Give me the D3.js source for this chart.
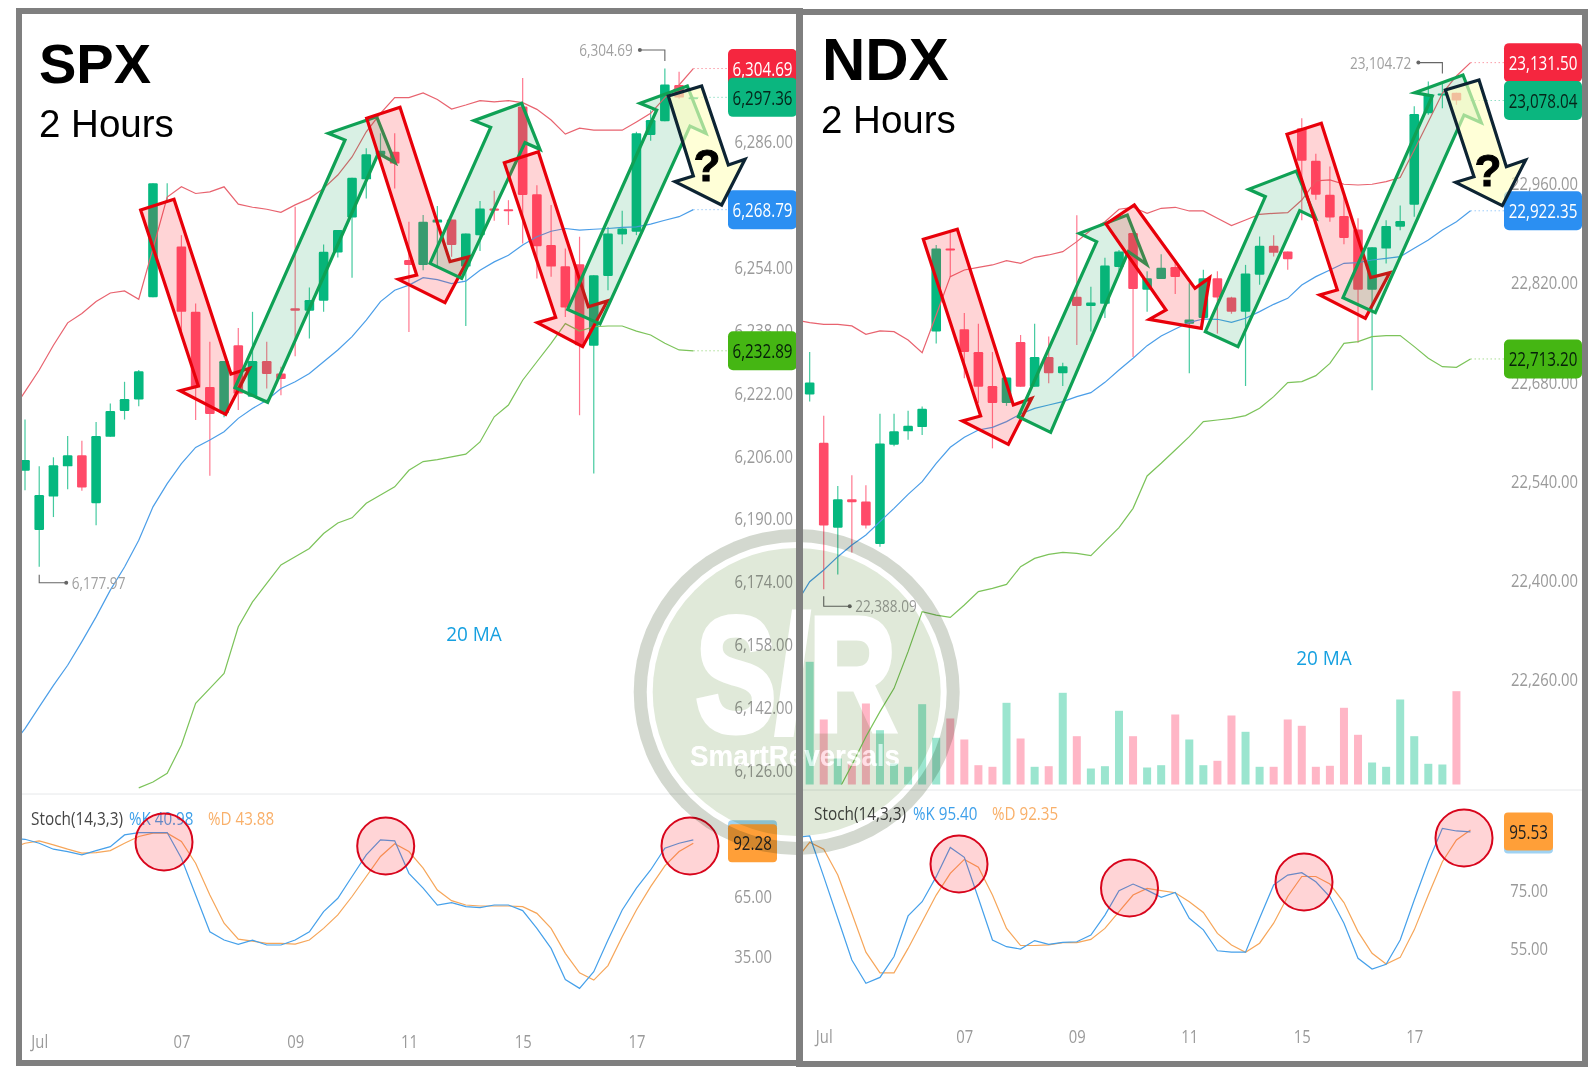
<!DOCTYPE html>
<html><head><meta charset="utf-8">
<script src="https://cdn.jsdelivr.net/npm/d3@7/dist/d3.min.js"></script>
<style>html,body{margin:0;padding:0;background:#fff}svg{display:block}</style>
</head><body><svg id="c" width="1588" height="1068"></svg>
<script>
// ---------- data ----------
const dateTickIndex = [1, 11, 19, 27, 35, 43];
const dateTickLabels = ["Jul", "07", "09", "11", "15", "17"];

// [open, high, low, close]
const spxCandles = [
[6202.4,6215.4,6197.4,6205.1],[6187.3,6203.5,6177.97,6196.2],[6195.8,6205.8,6190.6,6203.8],[6203.5,6211.2,6197.7,6206.3],
[6206.3,6210,6197.3,6198.1],[6194.1,6214.8,6188.5,6211.2],[6211,6219.5,6211,6217.6],[6217.6,6225,6215.4,6220.6],
[6220.5,6228,6218.8,6227.7],[6246.5,6275.5,6246.5,6275.5],[6275.5,6275.5,6271,6275.5],[6259.4,6262.3,6237.3,6242.8],
[6242.8,6244.9,6215.3,6223.7],[6223.7,6235.2,6201.1,6216.8],[6217,6230.3,6216,6230.3],[6234.3,6238.7,6217.8,6222],
[6221.2,6242.8,6221.2,6230.3],[6230.3,6235.2,6223.3,6227],[6227.1,6228.8,6221.6,6225.7],[6243.7,6269.5,6231.5,6243.1],
[6243.1,6249,6236,6245.8],[6245.6,6259.9,6242.8,6258.1],[6257.9,6263.6,6256.6,6263.6],[6266.8,6276.9,6251.5,6276.9],
[6276.5,6284.4,6271.6,6282.9],[6282.7,6288.2,6280.5,6283.8],[6283.5,6288.2,6274.2,6280.5],[6256,6265.7,6237.7,6254.7],
[6254.7,6267.4,6253.4,6265.7],[6265.5,6269.7,6254.3,6266.3],[6266.3,6266.3,6256.8,6259.8],[6254.3,6262.7,6239.2,6262.7],
[6262.3,6271,6258.3,6269.1],[6269.1,6273.6,6266,6268.5],[6268.9,6271.2,6264.9,6268.4],[6295,6302.3,6260.2,6272.5],
[6272.7,6275,6251.3,6259.5],[6259.8,6270,6251.7,6254.3],[6254.4,6258.9,6241.5,6243.9],[6254.9,6261.9,6216.5,6234.3],
[6234.2,6252.1,6201.7,6252.1],[6251.9,6264.4,6248.3,6262.7],[6262.5,6268.5,6260,6264],[6263.2,6288.6,6262.3,6288.2],
[6287.8,6294.1,6286.3,6291.6],[6291.3,6304.69,6291.3,6300.6],[6300.5,6303.9,6297,6297.3],[6297.2,6297.5,6297.1,6297.36]];

// Line series start one bar before the first candle (hidden by the frame).
const spxUpper = [6217,6222.5,6228,6234.3,6240,6242.4,6245.4,6247.6,6248.1,6246,6258.9,6272,6274.6,6272.9,6273.3,6274.6,6270.2,6269.4,6268.9,6268.1,6270,6271.6,6274.2,6277.6,6282.2,6288.6,6293.3,6297.3,6297.3,6298.5,6296.8,6294.4,6295.4,6296.5,6296.2,6296.5,6296,6294.3,6291.6,6288,6289.5,6289,6289,6289,6291.1,6293.3,6297.3,6300.5,6304.69];
const spxMA = [6132.1,6136.8,6142.3,6147.8,6152.9,6158.9,6165.2,6172,6177.9,6184.7,6193.2,6199.1,6204.2,6208.3,6210.2,6212.3,6215.7,6218.2,6220.3,6223.3,6225,6227.1,6230.1,6233.1,6236.5,6240.7,6245.4,6248.3,6249.6,6251.5,6251,6250,6250.6,6253.4,6255.5,6257.2,6259.8,6261.9,6263.3,6264,6263.6,6263.8,6264,6264.3,6264.4,6265.1,6266.1,6267,6268.79];
const spxLower = [null,null,null,null,null,null,null,null,null,6121.7,6123.2,6125.4,6132.6,6143.2,6147,6150.8,6162.7,6169,6173.7,6178.4,6180.5,6182.6,6186.4,6189.1,6190.4,6194.1,6196.2,6198.3,6202.5,6204.7,6205.2,6205.9,6206.6,6209.7,6216.1,6219.1,6225.4,6230.1,6234.8,6239.8,6237.9,6239,6239.2,6239.2,6237.9,6236.9,6234.8,6233.1,6232.89];
const spxK = [94.5,94.3,92.3,89.3,88.1,86.4,88.6,90.6,96.5,97.7,97.7,97.7,84.7,66.2,47.6,43.4,41.2,43.4,40.9,40.9,43.4,47.6,57.8,64.5,75.5,86.4,94,93.5,77.1,69.6,61.1,62.3,60.3,59.8,61.1,61.1,58.3,49.3,39.2,23.5,19,27.4,43.4,58.6,69.6,78.8,89.8,92.3,94];
const spxD = [89.8,92.3,93.5,91.5,89.3,87.3,87.6,88.6,92.3,95.7,97.4,97.4,93.2,82.2,66.2,51.9,43.9,42.9,41.7,41.7,41.4,43.4,49.3,56.1,65.4,75.5,85.6,92,88.1,79.7,68.7,63.3,61.1,60.6,60.6,60.6,60.3,56.9,49.3,36.7,26.9,23.2,30.5,45.1,58.6,70.4,80.9,88.1,92.28];
const spxPriceTicks = [6126,6142,6158,6174,6190,6206,6222,6238,6254,6286];
const spxStochTicks = [35,65];

const ndxCandles = [
[22663,22723,22653,22680],[22595,22633,22388.09,22478],[22475,22534,22409,22515],[22515,22549,22440,22511],
[22512,22535,22474,22478],[22452,22636,22448,22594],[22592,22636,22590,22611],[22611,22640,22599,22619],
[22617,22646,22606,22643],[22752,22874,22735,22869],[22869,22891,22829,22867],[22755,22778,22686,22723],
[22723,22763,22651,22674],[22675,22723,22587,22651],[22651,22687,22647,22687],[22737,22747,22674,22674],
[22674,22763,22674,22716],[22716,22745,22679,22693],[22693,22708,22675,22703],[22801,22916,22733,22788],
[22788,22815,22752,22793],[22791,22856,22771,22845],[22843,22867,22834,22865],[22891,22891,22716,22812],
[22811,22837,22780,22827],[22826,22861,22826,22842],[22843,22854,22805,22829],[22763,22820,22693,22769],
[22771,22839,22768,22827],[22827,22837,22749,22800],[22800,22801,22777,22780],[22780,22846,22675,22834],
[22832,22886,22818,22873],[22873,22888,22858,22863],[22865,22865,22839,22854],[23039,23053,22909,22993],
[22993,23003,22938,22945],[22945,22985,22907,22913],[22915,22942,22875,22884],[22896,22912,22736,22811],
[22811,22871,22669,22871],[22869,22909,22848,22901],[22900,22930,22895,22908],[22931,23070,22914,23059],
[23060,23104.72,23058,23087],[23087,23102,23067,23088],[23089,23089,23072,23078]];
const ndxVolume = [122.7,65,26,21,81,54.3,21,17.7,80.3,46.7,66,45,19.3,17.7,81.7,46,17.7,18.3,91.7,48.3,16,18.3,73.7,48.3,17,19.3,70,45,19.3,23.7,69,52.7,17.7,17.7,65,58.7,17.7,18.7,76.7,49.7,22,17.7,85,48.3,20.7,20,93.3];
const ndxUpper = [22768,22764.5,22762.1,22762.1,22759.8,22748,22752.7,22751.8,22740,22722.1,22775.3,22829.4,22838.8,22842.6,22845.9,22852,22848.2,22856.7,22860,22864.7,22878.8,22895.3,22907,22924.5,22927.3,22918.8,22925.9,22927.3,22922.1,22922.1,22911.8,22901.4,22909.4,22917.4,22918.8,22919.8,22937.6,22964.5,22965.9,22959.8,22958.8,22959.8,22963.5,22969.2,23008.2,23048.2,23088.2,23112.7,23131.5];
const ndxMA = [22366,22398.8,22415.3,22434.1,22450.6,22464.7,22483.5,22502.3,22522.1,22540,22565.9,22588.5,22602.6,22612.9,22616.7,22624.7,22635.5,22643.5,22648.2,22652.9,22660,22665.6,22680.2,22697.6,22714.1,22732,22745.6,22755.5,22764.9,22769.6,22769.2,22764.9,22770.6,22780,22790.3,22798.8,22817.6,22829.4,22838.8,22848.2,22849.2,22852.9,22855.3,22857.6,22869.4,22881.2,22895.3,22907,22922.35];
const ndxLower = [null,null,null,22102.3,22140,22180,22215.3,22248.2,22300,22356.5,22351.7,22348.4,22365.9,22384.7,22389.4,22395,22420,22431.7,22437.4,22440.2,22438.8,22435.5,22455.3,22475,22502.3,22548,22565.9,22584.7,22603.5,22624.7,22627,22629.4,22633.2,22643.5,22660,22679.8,22681.2,22689.6,22707,22735.3,22737.6,22744.7,22746.1,22746.1,22730.6,22714.1,22702.3,22701.4,22713.2];
const ndxK = [93.5,93.97,79.95,65.6,51.2,43.2,45.2,52.4,66.4,71.3,79.95,90,86.6,72.5,58.1,55.8,55,57.9,56.6,57.3,57.5,59.8,66.7,75.1,77.4,75.3,72.8,74.5,65.6,61.6,54.4,53.9,53.9,65.6,77.1,80.5,81.3,78.2,73,63.9,51.8,48.1,49.7,58.1,71.9,85.1,96.6,95.7,95.4];
const ndxD = [85.7,91.8,89.4,80.5,67.3,53.9,46.8,46.8,55.2,64.4,73.6,81.1,85.9,83.2,73.6,62.1,56.2,56.2,56.4,57.2,57.2,58.3,62.1,67.9,73.6,75.9,75.1,74.4,71.3,67.6,60.4,56.4,53.9,57,63.9,73.1,80,80,77.4,71,61,53.5,49.8,52.1,61.6,73.6,85.1,92.6,96];
const ndxPriceTicks = [22260,22400,22540,22680,22820,22960];
const ndxStochTicks = [55,75];

const spxTags = [["6,304.69",6304.69,"#f5263f","#fff"],["6,297.36",6297.36,"#0bb67f","#06251a"],["6,268.79",6268.79,"#2b8ff2","#fff"],["6,232.89",6232.89,"#45b613","#06200a"]];
const ndxTags = [["23,131.50",23131.5,"#f5263f","#fff"],["23,078.04",23078.04,"#0bb67f","#06251a"],["22,922.35",22922.35,"#2b8ff2","#fff"],["22,713.20",22713.2,"#45b613","#06200a"]];

// ---------- annotation overlays, in page pixels ×3 ----------
const spxArrows = [
 ["r",[[422,630],[522,598],[693,1122],[748,1105],[677,1243],[540,1172],[595,1158]]],
 ["g",[[705,1163],[1035,420],[985,400],[1130,350],[1185,488],[1135,460],[803,1207]]],
 ["r",[[1100,355],[1200,322],[1350,785],[1408,770],[1335,908],[1195,838],[1250,825]]],
 ["g",[[1290,790],[1472,382],[1422,362],[1565,310],[1620,448],[1575,428],[1385,835]]],
 ["r",[[1513,488],[1615,455],[1765,920],[1822,903],[1748,1040],[1612,968],[1667,952]]],
 ["g",[[1703,928],[1970,330],[1920,310],[2062,258],[2118,400],[2070,378],[1800,972]]],
 ["k",[[2005,288],[2105,258],[2185,495],[2235,478],[2165,615],[2025,545],[2080,528]]]];
const ndxArrows = [
 ["r",[[2770,718],[2872,688],[3040,1215],[3095,1195],[3025,1333],[2887,1263],[2942,1248]]],
 ["g",[[3055,1250],[3290,725],[3238,700],[3382,645],[3440,793],[3385,755],[3152,1297]]],
 ["r",[[3318,672],[3403,615],[3585,865],[3629,833],[3604,985],[3448,958],[3498,930]]],
 ["g",[[3616,995],[3796,590],[3746,568],[3889,513],[3947,655],[3899,632],[3714,1040]]],
 ["r",[[3861,403],[3964,370],[4112,833],[4169,818],[4096,955],[3959,885],[4012,870]]],
 ["g",[[4029,893],[4297,288],[4244,278],[4389,225],[4444,368],[4392,345],[4126,938]]],
 ["k",[[4336,270],[4437,240],[4519,500],[4577,480],[4507,617],[4367,547],[4422,530]]]];
const circles = [[164,842],[385.7,846],[690,846],[959,864],[1129.5,888],[1304,882],[1464,838]];

// ---------- drawing ----------
const svg = d3.select("#c");
const defs = svg.append("defs");
svg.append("rect").attr("width",1588).attr("height",1068).attr("fill","#fff");
const FONT = "'Open Sans', sans-serif";
const BLUE="#4b9ee8", UP="#e8636f", LOW="#7cc35a", ORG="#f6a65a", GREEN="#05b87f", RED="#ff4b69";

function txt(g,x,y,s,o={}){
  return g.append("text").attr("transform",`translate(${x},${y}) scale(${o.sx??0.8},1)`)
    .attr("text-anchor",o.anchor||"start").attr("dy",".36em")
    .attr("font-family",o.font||FONT).attr("font-size",o.size||18.5)
    .attr("font-weight",o.weight||400).attr("fill",o.fill||"#999").text(s);
}

function panel(cfg){
  const g = svg.append("g");
  const id = "clip"+cfg.name;
  defs.append("clipPath").attr("id",id).append("rect")
    .attr("x",cfg.pane[0]).attr("y",cfg.pane[1]).attr("width",cfg.pane[2]-cfg.pane[0]).attr("height",cfg.baseline-cfg.pane[1]);
  const clipS = "clipS"+cfg.name;
  defs.append("clipPath").attr("id",clipS).append("rect")
    .attr("x",cfg.pane[0]).attr("y",cfg.sep).attr("width",cfg.pane[2]-cfg.pane[0]).attr("height",1060-cfg.sep);

  const x = d3.scaleLinear().domain([0,47]).range(cfg.xr);
  const y = d3.scaleLinear().domain(cfg.yd).range(cfg.yr);
  const s = d3.scaleLinear().domain(cfg.sd).range(cfg.sr);

  // separator
  g.append("line").attr("x1",cfg.pane[0]).attr("x2",cfg.pane[2]).attr("y1",cfg.sep).attr("y2",cfg.sep).attr("stroke","#e6e8ea");

  // volume
  if(cfg.volume){
    const v = d3.scaleLinear().domain([0,100]).range([cfg.baseline,cfg.baseline-100]);
    g.append("g").selectAll("rect").data(cfg.volume).join("rect")
      .attr("x",(d,i)=>x(i)-4).attr("width",8).attr("y",d=>v(d)).attr("height",d=>v(0)-v(d))
      .attr("fill",(d,i)=>cfg.candles[i][3]>=cfg.candles[i][0]?"#9be5cf":"#ffb6c6");
  }

  // candles
  const cg = g.append("g").selectAll("g").data(cfg.candles).join("g")
    .attr("fill",d=>d[3]>=d[0]?GREEN:RED).attr("stroke",d=>d[3]>=d[0]?GREEN:RED);
  cg.append("line").attr("x1",(d,i)=>x(i)).attr("x2",(d,i)=>x(i)).attr("y1",d=>y(d[1])).attr("y2",d=>y(d[2]))
    .attr("stroke-width",1.2).attr("stroke-opacity",.75);
  cg.filter(d=>d[0]!==d[3]).append("rect").attr("x",(d,i)=>x(cfg.candles.indexOf(d))-4.8).attr("width",9.6).attr("rx",1.2).attr("stroke","none")
    .attr("y",d=>y(Math.max(d[0],d[3]))).attr("height",d=>Math.max(2,Math.abs(y(d[0])-y(d[3]))));

  // bands
  const ln = sc => d3.line().defined(d=>d!=null).x((d,i)=>x(i-1)).y(d=>sc(d));
  const lines = g.append("g").attr("fill","none").attr("clip-path",`url(#${id})`);
  lines.append("path").attr("d",ln(y)(cfg.upper)).attr("stroke",UP).attr("stroke-width",1.2);
  lines.append("path").attr("d",ln(y)(cfg.ma)).attr("stroke",BLUE).attr("stroke-width",1.2);
  lines.append("path").attr("d",ln(y)(cfg.lower)).attr("stroke",LOW).attr("stroke-width",1.2);

  // stochastic
  const sl = g.append("g").attr("fill","none").attr("clip-path",`url(#${clipS})`);
  sl.append("path").attr("d",ln(s)(cfg.d)).attr("stroke",ORG).attr("stroke-width",1.2);
  sl.append("path").attr("d",ln(s)(cfg.k)).attr("stroke","#45a0ea").attr("stroke-width",1.2);

  // axes
  const styleAxis = (a,sx)=>{ a.select(".domain").remove();
    a.selectAll("text").attr("font-family",FONT).attr("font-size",18.5).attr("fill","#9a9a9a").attr("x",0).attr("y",0).attr("dy",".3em")
      .attr("transform",`scale(${sx},1)`); };
  g.append("g").attr("transform",`translate(${cfg.axisX},0)`)
    .call(d3.axisLeft(y).tickValues(cfg.pt).tickFormat(d3.format(",.2f")).tickSize(0)).call(a=>styleAxis(a,cfg.tsx));
  g.append("g").attr("transform",`translate(${cfg.saxisX},0)`)
    .call(d3.axisLeft(s).tickValues(cfg.st).tickFormat(d3.format(".2f")).tickSize(0)).call(a=>styleAxis(a,.8));
  g.append("g").attr("transform",`translate(0,${cfg.dateY})`)
    .call(d3.axisBottom(x).tickValues(dateTickIndex).tickFormat((d,i)=>dateTickLabels[i]).tickSize(0)).call(a=>styleAxis(a,.8));

  // dotted guides and tags
  const lastX = x(47);
  cfg.tags.forEach(t=>{
    g.append("line").attr("x1",lastX).attr("x2",cfg.tagX).attr("y1",y(t[1])).attr("y2",y(t[1]))
      .attr("stroke",t[2]).attr("stroke-opacity",.45).attr("stroke-dasharray","1.5 2.5");
  });
  cfg.tags.forEach(t=>{
    g.append("rect").attr("x",cfg.tagX).attr("width",cfg.tagW).attr("y",y(t[1])-19.5).attr("height",39).attr("rx",5).attr("fill",t[2]);
    txt(g,cfg.tagX+cfg.tagW/2,y(t[1]),t[0],{anchor:"middle",fill:t[3],size:20,sx:.76});
  });
  // stoch tag with the %K tag peeking out
  g.append("rect").attr("x",cfg.stagX).attr("width",49).attr("y",s(cfg.stagV)-19+cfg.stagOff).attr("height",38).attr("rx",4).attr("fill","#9fd2f2");
  g.append("rect").attr("x",cfg.stagX).attr("width",49).attr("y",s(cfg.stagV)-19).attr("height",38).attr("rx",4).attr("fill","#ff9f38");
  txt(g,cfg.stagX+24.5,s(cfg.stagV),d3.format(".2f")(cfg.stagV),{anchor:"middle",fill:"#222",size:20,sx:.76});

  // high / low callouts
  const lo=cfg.lowC, hi=cfg.highC;
  const conn=(px,py,a,b,dx,label,anchorEnd)=>{
    g.append("path").attr("fill","none").attr("stroke","#666").attr("stroke-width",1.1)
      .attr("d",d3.line()([[px,py+a],[px,py+b],[px+dx,py+b]]));
    g.append("circle").attr("cx",px+dx).attr("cy",py+b).attr("r",2).attr("fill","#666");
    txt(g,px+dx+(anchorEnd?-7:5.5),py+b,label,{anchor:anchorEnd?"end":"start",fill:"#a0a0a0",size:17});
  };
  conn(x(lo[0]),y(lo[1]),lo[2],lo[3],lo[4],lo[5],false);
  conn(x(hi[0]),y(hi[1]),hi[2],hi[3],hi[4],hi[5],true);

  // titles & legends
  txt(g,cfg.title[0],cfg.title[1],cfg.name,{font:"'Liberation Sans',Arial,sans-serif",size:cfg.title[2],weight:700,fill:"#000",sx:1}).attr("dy",0);
  txt(g,cfg.sub[0],cfg.sub[1],"2 Hours",{font:"'Liberation Sans',Arial,sans-serif",size:38.5,fill:"#000",sx:1}).attr("dy",0);
  txt(g,cfg.ma20[0],cfg.ma20[1],"20 MA",{anchor:"middle",fill:"#16a0e0",size:20,sx:.95});
  txt(g,cfg.leg[0],cfg.leg[3],"Stoch(14,3,3)",{fill:"#444",size:18.5,sx:.83});
  txt(g,cfg.leg[1],cfg.leg[3],"%K "+cfg.kv,{fill:"#3ea0ea",size:18.5,sx:.82});
  txt(g,cfg.leg[2],cfg.leg[3],"%D "+cfg.dv,{fill:"#f9b06a",size:18.5,sx:.82});

  // arrows
  const sty={r:["#e8000a","rgba(255,40,50,.2)"],g:["#0fa155","rgba(20,160,90,.16)"],k:["#0d2433","rgba(255,255,190,.62)"]};
  cfg.arrows.forEach(a=>{
    g.append("polygon").attr("points",a[1].map(p=>[p[0]/3,p[1]/3].join(",")).join(" "))
      .attr("fill",sty[a[0]][1]).attr("stroke",sty[a[0]][0]).attr("stroke-width",3.2).attr("stroke-linejoin","miter");
  });
  txt(g,cfg.q[0],cfg.q[1],"?",{anchor:"middle",font:"'Liberation Sans',Arial,sans-serif",size:44,weight:700,fill:"#000",sx:1})
    .attr("stroke","#000").attr("stroke-width",1);
}

panel({name:"SPX",pane:[22,14,796],baseline:794,sep:794,
  xr:[25,693.3],yd:[6126,6286],yr:[771,142],sd:[35,65],sr:[956.7,897.3],
  candles:spxCandles,upper:spxUpper,ma:spxMA,lower:spxLower,k:spxK,d:spxD,
  pt:spxPriceTicks,st:spxStochTicks,axisX:793,saxisX:772,dateY:1042,tsx:.8,
  tags:spxTags,tagX:728,tagW:69,stagX:728,stagV:92.28,stagOff:-4,
  lowC:[1,6177.97,8,16,27,"6,177.97"],highC:[45,6304.69,-7.5,-18.5,-25,"6,304.69"],
  title:[39,83,56],sub:[39,137],ma20:[474,634],leg:[31,129,208,818],kv:"40.98",dv:"43.88",
  arrows:spxArrows,q:[707,165]});

panel({name:"NDX",pane:[803,15,1582],baseline:784.5,sep:790,
  xr:[809.67,1470.5],yd:[22260,22820],yr:[680,283.3],sd:[55,75],sr:[949,891],
  candles:ndxCandles,volume:ndxVolume,upper:ndxUpper,ma:ndxMA,lower:ndxLower,k:ndxK,d:ndxD,
  pt:ndxPriceTicks,st:ndxStochTicks,axisX:1578,saxisX:1548,dateY:1037,tsx:.8,
  tags:ndxTags,tagX:1504,tagW:78,stagX:1504,stagV:95.53,stagOff:3,
  lowC:[1,22388.09,7,17,26,"22,388.09"],highC:[45,23104.72,-8,-19,-24,"23,104.72"],
  title:[822,80,60],sub:[821,133],ma20:[1324,658],leg:[814,913,992,813],kv:"95.40",dv:"92.35",
  arrows:ndxArrows,q:[1488,170]});

// stochastic circles
svg.append("g").selectAll("circle").data(circles).join("circle")
  .attr("cx",d=>d[0]).attr("cy",d=>d[1]).attr("r",28.5)
  .attr("fill","rgba(255,40,50,.2)").attr("stroke","#d8051c").attr("stroke-width",2);

// watermark: multiplied over the chart, so its white parts leave the chart showing
const wm = svg.append("g").style("mix-blend-mode","multiply");
wm.append("circle").attr("cx",796.7).attr("cy",692).attr("r",163).attr("fill","#d3d8cf");
wm.append("circle").attr("cx",796.7).attr("cy",692).attr("r",150).attr("fill","#fff");
wm.append("circle").attr("cx",796.7).attr("cy",692).attr("r",144).attr("fill","#e0e9d9");
wm.append("text").attr("transform","translate(796,730) scale(.74,1)").attr("text-anchor","middle")
  .attr("font-family","'Liberation Sans',Arial,sans-serif").attr("font-weight",700).attr("font-size",162)
  .attr("fill","#fff").attr("stroke","#fff").attr("stroke-width",7).text("S/R");
wm.append("text").attr("x",795).attr("y",766).attr("text-anchor","middle")
  .attr("font-family","'Liberation Sans',Arial,sans-serif").attr("font-weight",700).attr("font-size",30)
  .attr("textLength",210).attr("lengthAdjust","spacingAndGlyphs").attr("fill","#fff").text("SmartReversals");
svg.append("text").attr("x",795).attr("y",766).attr("text-anchor","middle")
  .attr("font-family","'Liberation Sans',Arial,sans-serif").attr("font-weight",700).attr("font-size",30)
  .attr("textLength",210).attr("lengthAdjust","spacingAndGlyphs").attr("fill","#fff").attr("fill-opacity",.55).text("SmartReversals");

// frames
const F="#7f7f7f";
[[16,8,784,6],[16,8,6,1058],[16,1060,784,6],[796,8,7,1058],[802,9,786,6],[1582,9,6,1058],[796,1061,792,6]].forEach(r=>{
  svg.append("rect").attr("x",r[0]).attr("y",r[1]).attr("width",r[2]).attr("height",r[3]).attr("fill",F);
});
</script></body></html>
